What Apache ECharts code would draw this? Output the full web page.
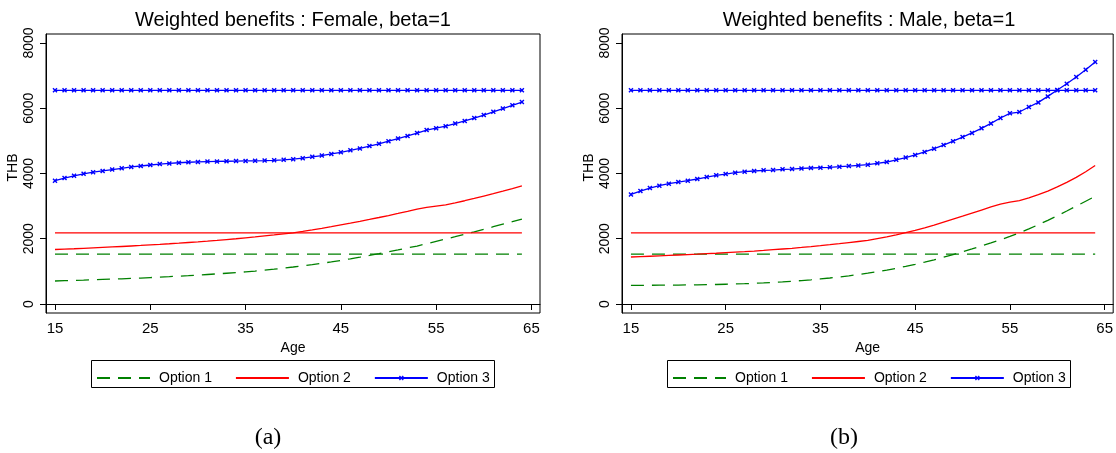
<!DOCTYPE html>
<html>
<head>
<meta charset="utf-8">
<script src="https://cdn.jsdelivr.net/npm/echarts@6/dist/echarts.min.js"></script>
<style>
  html, body { margin: 0; padding: 0; background: #fff; }
  #chart { width: 1116px; height: 453px; }
</style>
</head>
<body>
<div id="chart"></div>
<script>
// Age grid shared by both panels
const ages = [15,16,17,18,19,20,21,22,23,24,25,26,27,28,29,30,31,32,33,34,
              35,36,37,38,39,40,41,42,43,44,45,46,47,48,49,50,51,52,53,54,
              55,56,57,58,59,60,61,62,63,64];

const xTicks = [15, 25, 35, 45, 55, 65];
const yTicks = [0, 2000, 4000, 6000, 8000];
const optionNames = ['Option 1', 'Option 2', 'Option 3'];
const panelTitles = ['Weighted benefits : Female, beta=1', 'Weighted benefits : Male, beta=1'];
const panelTags = ['(a)', '(b)'];

// Flat benefit levels (THB) for Option 1, 2, 3
const femaleFlat = [1530, 2180, 6550];
const maleFlat = [1530, 2180, 6550];

// Age-dependent weighted benefits (THB), female
const femaleOpt1 = [705,714,723,732,742,752,762,773,784,796,
                    810,824,838,853,869,886,904,923,943,963,
                    985,1010,1038,1068,1100,1134,1170,1208,1248,1290,
                    1336,1385,1436,1490,1546,1603,1660,1718,1777,1848,
                    1920,1990,2062,2136,2212,2290,2368,2446,2525,2605];
const femaleOpt2 = [1670,1682,1694,1707,1720,1734,1748,1763,1778,1794,
                    1811,1828,1846,1865,1885,1906,1928,1951,1975,2000,
                    2027,2055,2085,2116,2148,2180,2225,2272,2321,2373,
                    2428,2480,2535,2592,2651,2712,2775,2840,2906,2960,
                    3000,3040,3100,3165,3235,3310,3385,3462,3540,3620];
const femaleOpt3 = [3780,3860,3930,3990,4040,4080,4120,4160,4200,4230,
                    4260,4290,4310,4330,4345,4355,4365,4370,4375,4380,
                    4385,4390,4395,4405,4420,4440,4470,4510,4550,4600,
                    4650,4710,4770,4840,4910,4990,5070,5150,5240,5330,
                    5390,5450,5530,5610,5700,5790,5890,5990,6090,6190];

// Age-dependent weighted benefits (THB), male
const maleOpt1 = [570,572,574,576,578,581,584,588,593,598,
                  605,613,622,633,646,661,678,697,718,742,
                  768,797,829,864,902,944,990,1040,1094,1152,
                  1215,1283,1356,1434,1517,1600,1688,1778,1870,1965,
                  2070,2180,2300,2430,2565,2705,2850,3000,3150,3300];
const maleOpt2 = [1440,1452,1464,1476,1489,1502,1515,1528,1542,1556,
                  1572,1588,1604,1622,1642,1664,1686,1708,1733,1760,
                  1788,1818,1850,1883,1916,1950,2005,2060,2120,2185,
                  2255,2335,2420,2510,2600,2690,2785,2880,2975,3060,
                  3120,3170,3250,3350,3460,3590,3730,3880,4055,4245];
const maleOpt3 = [3360,3462,3555,3626,3687,3738,3779,3831,3892,3943,
                  3984,4025,4055,4076,4096,4106,4127,4137,4157,4168,
                  4178,4188,4208,4229,4249,4270,4311,4352,4420,4490,
                  4570,4660,4760,4870,4990,5115,5245,5385,5535,5700,
                  5844,5884,6038,6180,6363,6559,6752,6958,7182,7418];

const FONT = '"Liberation Sans", Arial, Helvetica, sans-serif';
const SERIF = '"Liberation Serif", "DejaVu Serif", serif';
const colors = ['#008000', '#ff0000', '#0000ff'];
const dashes = [[13, 8], 'solid', 'solid'];
// Small "x" marker
const CROSS = 'path://M0,2L2,0L5,3L8,0L10,2L7,5L10,8L8,10L5,7L2,10L0,8L3,5Z';

const panels = [
  { flat: femaleFlat, curves: [femaleOpt1, femaleOpt2, femaleOpt3] },
  { flat: maleFlat, curves: [maleOpt1, maleOpt2, maleOpt3] }
];

// Plot-region geometry (pixels)
const gridLeft = [46, 622];
const gridTop = 34;
const gridW = 494;
const gridH = 279;

function lineSeries(panel, k, data) {
  return {
    type: 'line',
    name: optionNames[k],
    xAxisIndex: panel,
    yAxisIndex: panel,
    data: data,
    symbol: k === 2 ? CROSS : 'none',
    symbolSize: 5,
    showAllSymbol: true,
    smooth: false,
    lineStyle: { color: colors[k], width: 1.3, type: dashes[k] },
    itemStyle: { color: colors[k] },
    emphasis: { disabled: true },
    silent: true,
    animation: false
  };
}

const series = [];
panels.forEach((p, i) => {
  for (let k = 0; k < 3; k++) {
    series.push(lineSeries(i, k, ages.map((a, j) => [a, p.curves[k][j]])));
    series.push(lineSeries(i, k, ages.map(a => [a, p.flat[k]])));
  }
});

const grids = gridLeft.map(l => ({
  left: l, top: gridTop, width: gridW, height: gridH,
  show: true, borderColor: '#000', borderWidth: 1, backgroundColor: 'transparent',
  containLabel: false
}));

const plainNumber = v => String(v);

const xAxes = gridLeft.map((l, i) => ({
  gridIndex: i, type: 'value', min: 14.056, max: 65.9,
  axisLine: { show: true, lineStyle: { color: '#000', width: 1 } },
  axisTick: { show: true, length: 6, customValues: xTicks, lineStyle: { color: '#000', width: 1 } },
  axisLabel: { customValues: xTicks, formatter: plainNumber, fontSize: 15, color: '#000', margin: 8, fontFamily: FONT },
  splitLine: { show: false },
  name: 'Age', nameLocation: 'middle', nameGap: 23,
  nameTextStyle: { fontSize: 14, color: '#000', fontFamily: FONT }
}));

const yAxes = gridLeft.map((l, i) => ({
  gridIndex: i, type: 'value', min: -276, max: 8276,
  axisLine: { show: true, lineStyle: { color: '#000', width: 1 } },
  axisTick: { show: true, length: 6, customValues: yTicks, lineStyle: { color: '#000', width: 1 } },
  axisLabel: { customValues: yTicks, formatter: plainNumber, rotate: 90, fontSize: 14, color: '#000', margin: 10, fontFamily: FONT },
  splitLine: { show: false },
  name: 'THB', nameLocation: 'middle', nameGap: 26,
  nameTextStyle: { fontSize: 14, color: '#000', fontFamily: FONT, padding: [0, 0, 0, 12] }
}));

// Legend entries: only Option 3 shows its marker on the key line
const legendData = optionNames.map((n, k) => (
  k === 2 ? { name: n } : { name: n, itemStyle: { opacity: 0 } }
));

const legends = gridLeft.map((l, i) => ({
  data: legendData,
  left: l + 50, top: 371, padding: 0,
  orient: 'horizontal',
  itemWidth: 53, itemHeight: 6, itemGap: 23,
  selectedMode: false,
  textStyle: { fontSize: 14, color: '#000', fontFamily: FONT, padding: [0, 0, 0, 4] }
}));

const graphics = [];
gridLeft.forEach((l, i) => {
  const cx = l + gridW / 2;
  graphics.push({
    type: 'text', x: cx, y: 20, silent: true,
    style: { text: panelTitles[i], fill: '#000', fontSize: 20, fontFamily: FONT,
             align: 'center', verticalAlign: 'middle', textAlign: 'center', textVerticalAlign: 'middle' }
  });
  graphics.push({
    type: 'rect', silent: true,
    shape: { x: l + 45.5, y: 360.5, width: 403, height: 27 },
    style: { fill: 'none', stroke: '#000', lineWidth: 1 }
  });
  graphics.push({
    type: 'text', x: cx - 25, y: 438, silent: true,
    style: { text: panelTags[i], fill: '#000', fontSize: 24, fontFamily: SERIF,
             align: 'center', verticalAlign: 'middle', textAlign: 'center', textVerticalAlign: 'middle' }
  });
});

const chart = echarts.init(document.getElementById('chart'), null, { renderer: 'canvas' });
chart.setOption({
  animation: false,
  backgroundColor: '#fff',
  grid: grids,
  xAxis: xAxes,
  yAxis: yAxes,
  legend: legends,
  series: series,
  graphic: graphics
});
</script>
</body>
</html>
